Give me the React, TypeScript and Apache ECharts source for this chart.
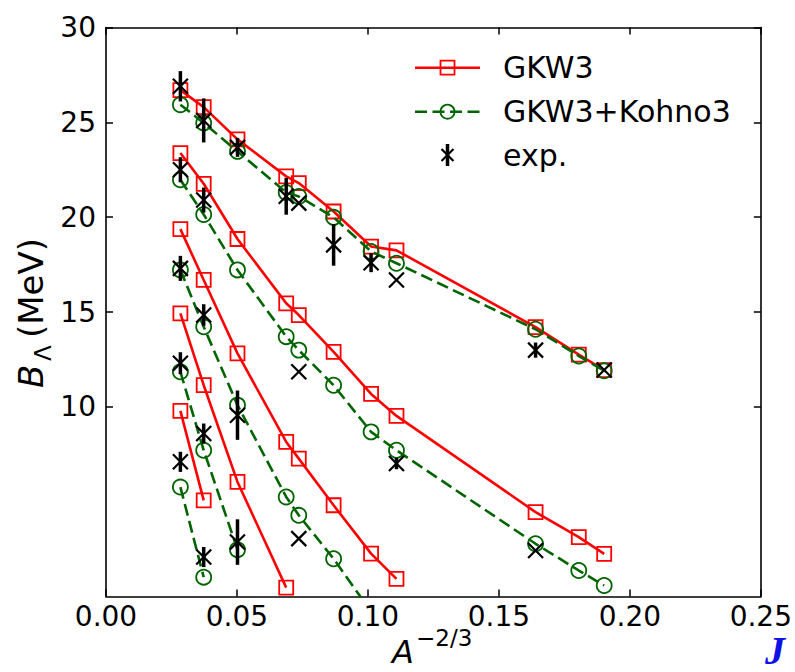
import React, { useEffect, useRef } from "react";
import * as echarts from "echarts";

// A^{-2/3} positions of the hypernuclei (columns)
const xVals = [0.0284, 0.0373, 0.0502, 0.0688, 0.0736, 0.0869, 0.1012, 0.1109, 0.164, 0.1805, 0.1902];

// GKW3 (red, solid) — one list per single-particle shell, starting at column 0
const gkwS = [26.7, 25.8, 24.1, 22.15, 21.8, 20.3, 18.45, 18.25, 14.2, 12.75, 11.94];
const gkwP = [23.38, 21.76, 18.85, 15.46, 14.84, 12.9, 10.68, 9.52, 4.45, 3.13, 2.25];
const gkwD = [19.37, 16.69, 12.82, 8.15, 7.27, 4.81, 2.26, 0.93];
const gkwF = [14.93, 11.14, 6.04, 0.47];
const gkwG = [9.79, 5.07];

// GKW3+Kohno3 (green, dashed)
const kohS = [25.93, 24.97, 23.47, 21.3, 21.09, 19.99, 18.19, 17.57, 14.09, 12.68, 11.9];
const kohP = [21.97, 20.14, 17.22, 13.7, 12.99, 11.14, 8.68, 7.71, 2.78, 1.37, 0.58];
const kohD = [17.22, 14.22, 10.09, 5.25, 4.28, 1.99, -0.8];
const kohF = [11.85, 7.71, 2.47];
const kohG = [5.77, 1.02];

// experimental points: x, B_Lambda, error
const expX = [0.0284, 0.0284, 0.0284, 0.0284, 0.0284, 0.0373, 0.0373, 0.0373, 0.0373, 0.0373, 0.0502, 0.0502, 0.0502, 0.0688, 0.0736, 0.0736, 0.0736, 0.0869, 0.1012, 0.1109, 0.1109, 0.164, 0.164, 0.1902];
const expY = [26.9, 22.5, 17.3, 12.3, 7.1, 25.1, 20.9, 14.84, 8.59, 2.08, 23.68, 9.56, 2.87, 21.1, 20.74, 11.85, 3.05, 18.54, 17.6, 16.69, 7.01, 12.99, 2.43, 11.94];
const expErr = [0.8, 0.66, 0.66, 0.58, 0.53, 1.16, 0.66, 0.57, 0.53, 0.53, 0.5, 1.3, 1.2, 0.97, 0, 0, 0, 1.1, 0.5, 0, 0.3, 0.4, 0, 0];

const xTicks = [0, 0.05, 0.1, 0.15, 0.2, 0.25];
const yTicks = [10, 15, 20, 25, 30];

const RED = "#ff0000";
const GREEN = "#006400";
const FONT = "DejaVu Sans";

const pairs = (ys: number[]) => ys.map((y, i) => [xVals[i], y]);

export default function App() {
  const ref = useRef<HTMLDivElement>(null);
  useEffect(() => {
    if (!ref.current) return;
    const chart = echarts.init(ref.current, null, { renderer: "svg" });

    const redSeries = [gkwS, gkwP, gkwD, gkwF, gkwG].map((ys) => ({
      type: "line",
      name: "GKW3",
      data: pairs(ys),
      symbol: "rect",
      symbolSize: 14,
      showAllSymbol: true,
      clip: true,
      lineStyle: { color: RED, width: 2.6 },
      itemStyle: { color: "rgba(0,0,0,0)", borderColor: RED, borderWidth: 1.8 },
      z: 2,
    }));
    const greenSeries = [kohS, kohP, kohD, kohF, kohG].map((ys) => ({
      type: "line",
      name: "GKW3+Kohno3",
      data: pairs(ys),
      symbol: "circle",
      symbolSize: 15,
      showAllSymbol: true,
      clip: true,
      lineStyle: { color: GREEN, width: 2.6, type: [12, 5.5] },
      itemStyle: { color: "rgba(0,0,0,0)", borderColor: GREEN, borderWidth: 1.8 },
      z: 3,
    }));
    const expData = expX.map((x, i) => [x, expY[i], expErr[i]]);
    const expSeries = {
      type: "custom",
      name: "exp.",
      data: expData,
      encode: { x: 0, y: 1 },
      z: 4,
      renderItem: (params: any, api: any) => {
        const x = api.value(0);
        const y = api.value(1);
        const e = api.value(2);
        const c = api.coord([x, y]);
        const s = 7.5;
        const children: any[] = [];
        if (e > 0) {
          const t = api.coord([x, y + e]);
          const b = api.coord([x, y - e]);
          children.push({
            type: "line",
            shape: { x1: c[0], y1: t[1], x2: c[0], y2: b[1] },
            style: { stroke: "#000", lineWidth: 3.5 },
          });
        }
        children.push({
          type: "line",
          shape: { x1: c[0] - s, y1: c[1] - s, x2: c[0] + s, y2: c[1] + s },
          style: { stroke: "#000", lineWidth: 2.2 },
        });
        children.push({
          type: "line",
          shape: { x1: c[0] - s, y1: c[1] + s, x2: c[0] + s, y2: c[1] - s },
          style: { stroke: "#000", lineWidth: 2.2 },
        });
        return { type: "group", children };
      },
    };

    const axisLine = { show: true, onZero: false, lineStyle: { color: "#000", width: 1.6 } };
    const tick = { show: true, inside: true, length: 7, lineStyle: { color: "#000", width: 1.5 } };

    const legendY = [67.7, 111.7, 155];
    const lx1 = 415, lx2 = 480, lxc = 447.5, tx = 503;

    const option: any = {
      animation: false,
      backgroundColor: "#fff",
      grid: { left: 106, top: 27.5, width: 658, height: 569 },
      xAxis: [
        {
          type: "value", min: 0, max: 0.25, interval: 0.05, position: "bottom",
          axisLine, axisTick: { ...tick, customValues: xTicks },
          axisLabel: {
            show: true, margin: 6, fontSize: 28, fontFamily: FONT, color: "#000",
            customValues: xTicks,
            formatter: (v: number) => v.toFixed(2),
          },
          splitLine: { show: false },
        },
        {
          type: "value", min: 0, max: 0.25, interval: 0.05, position: "top",
          axisLine, axisTick: { ...tick, customValues: xTicks },
          axisLabel: { show: false }, splitLine: { show: false },
        },
      ],
      yAxis: [
        {
          type: "value", min: 0, max: 30, interval: 5, position: "left",
          axisLine, axisTick: { ...tick, customValues: yTicks },
          axisLabel: {
            show: true, margin: 10, fontSize: 28, fontFamily: FONT, color: "#000",
            customValues: yTicks,
            formatter: (v: number) => (v >= 10 ? String(v) : ""),
          },
          splitLine: { show: false },
        },
        {
          type: "value", min: 0, max: 30, interval: 5, position: "right",
          axisLine, axisTick: { ...tick, customValues: yTicks },
          axisLabel: { show: false }, splitLine: { show: false },
        },
      ],
      series: [...redSeries, ...greenSeries, expSeries],
      graphic: [
        // y-axis title
        { type: "text", x: 31, y: 388, rotation: Math.PI / 2, style: { text: "B", fontSize: 34, fontStyle: "italic", fontFamily: FONT, fill: "#000", align: "left", verticalAlign: "middle" } },
        { type: "text", x: 43, y: 361, rotation: Math.PI / 2, style: { text: "Λ", fontSize: 23, fontFamily: FONT, fill: "#000", align: "left", verticalAlign: "middle" } },
        { type: "text", x: 31, y: 338, rotation: Math.PI / 2, style: { text: "(MeV)", fontSize: 34, fontFamily: FONT, fill: "#000", align: "left", verticalAlign: "middle" } },
        // x-axis title
        { type: "text", x: 392, y: 652, style: { text: "A", fontSize: 32, fontStyle: "italic", fontFamily: FONT, fill: "#000", align: "left", verticalAlign: "middle" } },
        { type: "text", x: 416, y: 638, style: { text: "−2/3", fontSize: 23, fontFamily: FONT, fill: "#000", align: "left", verticalAlign: "middle" } },
        // corner mark
        { type: "text", x: 765, y: 650, style: { text: "J", fontSize: 40, fontStyle: "italic", fontWeight: "bold", fontFamily: "Liberation Serif", fill: "#1010e8", align: "left", verticalAlign: "middle" } },
        // legend
        { type: "line", shape: { x1: lx1, y1: legendY[0], x2: lx2, y2: legendY[0] }, style: { stroke: RED, lineWidth: 2.6 } },
        { type: "rect", shape: { x: lxc - 7, y: legendY[0] - 7, width: 14, height: 14 }, style: { stroke: RED, lineWidth: 1.8, fill: "none" } },
        { type: "text", x: tx, y: legendY[0], style: { text: "GKW3", fontSize: 30, fontFamily: FONT, fill: "#000", align: "left", verticalAlign: "middle" } },
        { type: "line", shape: { x1: lx1, y1: legendY[1], x2: lx2, y2: legendY[1] }, style: { stroke: GREEN, lineWidth: 2.6, lineDash: [12, 5.5] } },
        { type: "circle", shape: { cx: lxc, cy: legendY[1], r: 7 }, style: { stroke: GREEN, lineWidth: 1.8, fill: "none" } },
        { type: "text", x: tx, y: legendY[1], style: { text: "GKW3+Kohno3", fontSize: 30, fontFamily: FONT, fill: "#000", align: "left", verticalAlign: "middle" } },
        { type: "line", shape: { x1: lxc, y1: legendY[2] - 11, x2: lxc, y2: legendY[2] + 11 }, style: { stroke: "#000", lineWidth: 3.5 } },
        { type: "line", shape: { x1: lxc - 6, y1: legendY[2] - 6, x2: lxc + 6, y2: legendY[2] + 6 }, style: { stroke: "#000", lineWidth: 2.2 } },
        { type: "line", shape: { x1: lxc - 6, y1: legendY[2] + 6, x2: lxc + 6, y2: legendY[2] - 6 }, style: { stroke: "#000", lineWidth: 2.2 } },
        { type: "text", x: tx, y: legendY[2], style: { text: "exp.", fontSize: 30, fontFamily: FONT, fill: "#000", align: "left", verticalAlign: "middle" } },
      ],
    };
    chart.setOption(option);
    return () => chart.dispose();
  }, []);
  return <div ref={ref} style={{ position: "absolute", left: 0, top: 0, width: 795, height: 672 }} />;
}
